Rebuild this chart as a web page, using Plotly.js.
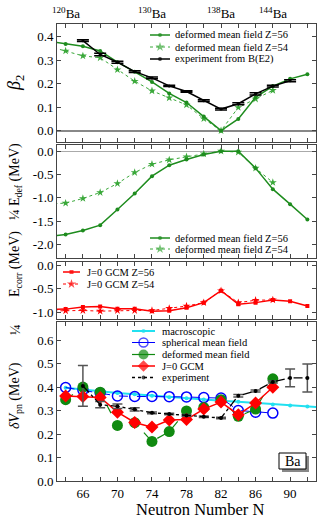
<!DOCTYPE html>
<html>
<head>
<meta charset="utf-8">
<script src="https://cdn.plot.ly/plotly-3.0.1.min.js"></script>
<style>body{margin:0;background:#fff}</style>
</head>
<body>
<div id="myDiv" style="width:321px;height:518px"></div>
<script>
// neutron numbers
var nAll = [62, 64, 66, 68, 70, 72, 74, 76, 78, 80, 82, 84, 86, 88, 90, 92];
var nZ54 = [62, 64, 66, 68, 70, 72, 74, 76, 78, 80, 82, 84, 86, 88];
var nExpB = [66, 68, 70, 72, 74, 76, 78, 80, 82, 84, 86, 88, 90];
var nCalc = [64, 66, 68, 70, 72, 74, 76, 78, 80, 82, 84, 86, 88];
var nMacro = [64, 66, 68, 70, 72, 74, 76, 78, 80, 82, 84, 86, 88, 90, 92, 94];
var nExpV = [66, 68, 70, 72, 74, 76, 78, 80, 82, 84, 86, 88, 90, 92];

// beta2
var betaZ56 = [0.382, 0.370, 0.360, 0.340, 0.292, 0.251, 0.208, 0.159, 0.120, 0.060, 0.0, 0.050, 0.142, 0.190, 0.221, 0.241];
var betaZ54 = [0.360, 0.340, 0.319, 0.311, 0.260, 0.211, 0.170, 0.140, 0.110, 0.051, 0.0, 0.099, 0.135, 0.172];
var betaExp = [0.384, 0.325, 0.292, 0.252, 0.225, 0.191, 0.167, 0.128, 0.092, 0.115, 0.157, 0.190, 0.213];
var betaErr = [0.004, 0.005, 0.004, 0.004, 0.004, 0.003, 0.003, 0.004, 0.004, 0.004, 0.005, 0.004, 0.004];

// 1/4 E_def
var edefZ56 = [-1.83, -1.786, -1.70, -1.586, -1.25, -0.907, -0.536, -0.30, -0.179, -0.071, 0.0, 0.0, -0.364, -0.814, -1.136, -1.464];
var edefZ54 = [-1.13, -1.114, -1.014, -0.886, -0.693, -0.457, -0.279, -0.186, -0.121, -0.057, 0.0, -0.02, -0.364, -0.671];

// 1/4 E_corr
var ecorrZ56 = [-0.945, -0.935, -0.89, -0.877, -0.928, -0.928, -0.978, -0.971, -0.906, -0.797, -0.543, -0.833, -0.797, -0.739, -0.768, -0.87];
var ecorrZ54 = [-0.975, -0.97, -0.964, -0.978, -0.964, -0.964, -0.964, -0.92, -0.87, -0.797, -0.543, -0.797, -0.746, -0.739];

// delta V_pn
var vMacro = [0.398, 0.390, 0.383, 0.376, 0.370, 0.364, 0.358, 0.353, 0.348, 0.343, 0.338, 0.333, 0.327, 0.322, 0.318, 0.314];
var vSpher = [0.399, 0.388, 0.376, 0.363, 0.361, 0.361, 0.360, 0.359, 0.356, 0.354, 0.301, 0.294, 0.290];
var vDef = [0.347, 0.401, 0.379, 0.237, 0.249, 0.169, 0.211, 0.299, 0.314, 0.347, 0.276, 0.307, 0.436];
var vGcm = [0.363, 0.361, 0.357, 0.294, 0.250, 0.230, 0.260, 0.263, 0.307, 0.337, 0.283, 0.333, 0.400];
var vExp = [0.406, 0.326, 0.319, 0.306, 0.291, 0.286, 0.280, 0.274, 0.269, 0.364, 0.384, 0.423, 0.440, 0.440];
var vErr = [0.087, 0.013, 0.010, 0.007, 0.004, 0.003, 0.004, 0.003, 0.003, 0.005, 0.004, 0.005, 0.038, 0.060];

// tick labels
var isoN = [64, 74, 82, 88];
var isoText = ['<sup>120</sup>Ba', '<sup>130</sup>Ba', '<sup>138</sup>Ba', '<sup>144</sup>Ba'];
var yTicks1 = [0, 0.1, 0.2, 0.3, 0.4];
var yTicks2 = [0, -0.5, -1, -1.5, -2];
var yTicks3 = [0, -0.5, -1];
var yTicks4 = [0, 0.1, 0.2, 0.3, 0.4, 0.5, 0.6];

var green = '#1e8c1e';
var green2 = '#3aa83a';
var red = '#ff0000';
var FAM = 'Liberation Serif';

function F(size) { return {family: FAM, size: size, color: '#000'}; }
function fmt(v) { return v.toFixed(1); }
// pixel -> paper (plot area is x 57..316, y 24..481)
function px(x) { return (x - 57) / 259; }
function py(y) { return (481 - y) / 457; }

function xAxis(anchor, labels) {
  return {
    range: [63, 93], anchor: anchor, tickmode: 'linear', tick0: 66, dtick: 4,
    showticklabels: labels,
    ticks: 'inside', ticklen: 4, tickcolor: '#444', mirror: 'allticks',
    minor: {tick0: 64, dtick: 2, ticks: 'inside', ticklen: 4, tickcolor: '#444'},
    showline: true, linecolor: '#444', linewidth: 1, showgrid: false, zeroline: false,
    tickfont: F(13)
  };
}

function yAxis(domain, range, ticks, anchor) {
  return {
    domain: domain, range: range, anchor: anchor, tickvals: ticks, ticktext: ticks.map(fmt),
    ticks: 'inside', ticklen: 4, tickcolor: '#444', mirror: 'allticks',
    showline: true, linecolor: '#444', linewidth: 1, showgrid: false, zeroline: false,
    tickfont: F(13)
  };
}

// legend keys, drawn in a pixel-coordinate overlay (x6/y6)
function key(x0, x1, y, color, dash, width, symbol, size, open) {
  return {
    x: [x0, (x0 + x1) / 2, x1], y: [y, y, y], xaxis: 'x6', yaxis: 'y6',
    mode: 'lines+markers', line: {color: color, dash: dash, width: width},
    marker: {symbol: symbol, size: [0, size, 0], color: color, line: {color: color, width: open ? 1.5 : 0}},
    showlegend: false, hoverinfo: 'skip'
  };
}

var data = [
  // panel 1
  {x: nZ54, y: betaZ54, xaxis: 'x', yaxis: 'y', mode: 'lines+markers',
   line: {color: green2, dash: 'dot', width: 1}, marker: {symbol: 'star', size: 6, color: green2}},
  {x: nAll, y: betaZ56, xaxis: 'x', yaxis: 'y', mode: 'lines+markers',
   line: {color: green, width: 1.5}, marker: {size: 4, color: green}},
  {x: nExpB, y: betaExp, xaxis: 'x', yaxis: 'y', mode: 'lines+markers',
   line: {color: '#000', width: 1.5}, marker: {size: 3, color: '#000'},
   error_y: {type: 'data', array: betaErr, width: 6, thickness: 1.5, color: '#000'}},
  // panel 2
  {x: nZ54, y: edefZ54, xaxis: 'x2', yaxis: 'y2', mode: 'lines+markers',
   line: {color: green2, dash: 'dot', width: 1}, marker: {symbol: 'star', size: 6, color: green2}},
  {x: nAll, y: edefZ56, xaxis: 'x2', yaxis: 'y2', mode: 'lines+markers',
   line: {color: green, width: 1.5}, marker: {size: 4, color: green}},
  // panel 3
  {x: nZ54, y: ecorrZ54, xaxis: 'x3', yaxis: 'y3', mode: 'lines+markers',
   line: {color: red, dash: 'dot', width: 1}, marker: {symbol: 'star', size: 6, color: red}},
  {x: nAll, y: ecorrZ56, xaxis: 'x3', yaxis: 'y3', mode: 'lines+markers',
   line: {color: red, width: 1.5}, marker: {symbol: 'square', size: 4, color: red}},
  // panel 4
  {x: nMacro, y: vMacro, xaxis: 'x4', yaxis: 'y4', mode: 'lines+markers',
   line: {color: '#22e0f0', width: 2}, marker: {size: 4, color: '#22e0f0'}},
  {x: nCalc, y: vSpher, xaxis: 'x4', yaxis: 'y4', mode: 'lines+markers',
   line: {color: '#0000ff', dash: 'dash', width: 1},
   marker: {symbol: 'circle-open', size: 10, color: '#0000ff', line: {width: 1.5}}},
  {x: nCalc, y: vDef, xaxis: 'x4', yaxis: 'y4', mode: 'lines+markers',
   line: {color: '#108a10', dash: 'dash', width: 1.2}, marker: {size: 11, color: '#108a10'}},
  {x: nCalc, y: vGcm, xaxis: 'x4', yaxis: 'y4', mode: 'lines+markers',
   line: {color: red, width: 1.5}, marker: {symbol: 'diamond', size: 10, color: red}},
  {x: nExpV, y: vExp, xaxis: 'x4', yaxis: 'y4', mode: 'lines+markers',
   line: {color: '#000', dash: 'dashdot', width: 1.3}, marker: {size: 4, color: '#000'},
   error_y: {type: 'data', array: vErr, width: 5, thickness: 1.5, color: '#555'}},
  // legend keys
  key(150, 170, 35, green, 'solid', 1.5, 'circle', 4),
  key(150, 170, 47, green2, 'dot', 1, 'star', 7),
  key(150, 170, 59, '#000', 'solid', 1.5, 'circle', 4),
  key(150, 170, 238, green, 'solid', 1.5, 'circle', 4),
  key(150, 170, 249, green2, 'dot', 1, 'star', 7),
  key(63, 80, 272, red, 'solid', 1.5, 'square', 4),
  key(63, 80, 284, red, 'dot', 1, 'star', 7),
  key(132, 155, 331, '#22e0f0', 'solid', 2, 'circle', 4),
  key(132, 155, 342.5, '#0000ff', 'solid', 1, 'circle-open', 9, true),
  key(132, 155, 354.5, '#108a10', 'solid', 1.2, 'circle', 10),
  key(132, 155, 366, red, 'solid', 1.5, 'diamond', 9),
  key(132, 155, 377.5, '#000', 'dot', 1.3, 'circle', 4)
];

var legendText = [
  [173, 35, 'deformed mean field Z=56'],
  [173, 47, 'deformed mean field Z=54'],
  [173, 59, 'experiment from B(E2)'],
  [173, 238, 'deformed mean field Z=56'],
  [173, 249, 'deformed mean field Z=54'],
  [85, 272, 'J=0 GCM Z=56'],
  [85, 284, 'J=0 GCM Z=54'],
  [160, 331, 'macroscopic'],
  [160, 342.5, 'spherical mean field'],
  [160, 354.5, 'deformed mean field'],
  [160, 366, 'J=0 GCM'],
  [160, 377.5, 'experiment']
];

var annotations = legendText.map(function (t) {
  return {xref: 'paper', yref: 'paper', x: px(t[0]), y: py(t[1]), text: t[2], showarrow: false,
          xanchor: 'left', yanchor: 'middle', font: F(10.5)};
});

isoN.forEach(function (n, i) {
  annotations.push({xref: 'x', yref: 'paper', x: n, y: py(13), text: isoText[i], showarrow: false,
                    xanchor: 'center', yanchor: 'middle', font: F(13)});
});

function ytitle(y, text, size) {
  annotations.push({xref: 'paper', yref: 'paper', x: px(15), y: py(y), text: text, showarrow: false,
                    textangle: -90, xanchor: 'center', yanchor: 'middle', font: F(size)});
}
ytitle(83, '<i>β</i><sub>2</sub>', 18);
ytitle(182, '¼ E<sub>def</sub> (MeV)', 14);
ytitle(264, 'E<sub>corr</sub> (MeV)', 14);
ytitle(330, '¼', 14);
ytitle(396, '<i>δV</i><sub>pn</sub> (MeV)', 14);

annotations.push({xref: 'paper', yref: 'paper', x: px(200), y: py(510), text: 'Neutron Number N',
                  showarrow: false, xanchor: 'center', yanchor: 'middle', font: F(16.5)});
annotations.push({xref: 'paper', yref: 'paper', x: px(292.5), y: py(461), text: 'Ba',
                  showarrow: false, xanchor: 'center', yanchor: 'middle', font: F(14)});

var layout = {
  width: 321, height: 518,
  margin: {l: 57, r: 5, t: 24, b: 37},
  paper_bgcolor: '#fff', plot_bgcolor: 'rgba(0,0,0,0)',
  font: F(12),
  showlegend: false,
  xaxis: xAxis('y', false),
  xaxis2: xAxis('y2', false),
  xaxis3: xAxis('y3', false),
  xaxis4: xAxis('y4', true),
  yaxis: Object.assign(yAxis([0.742, 1], [-0.048, 0.455], yTicks1, 'x'),
                       {zeroline: true, zerolinecolor: '#888', zerolinewidth: 2}),
  yaxis2: Object.assign(yAxis([0.489, 0.735], [-2.28, 0.13], yTicks2, 'x2'),
                        {zeroline: true, zerolinecolor: '#aaa', zerolinewidth: 1}),
  yaxis3: yAxis([0.354, 0.480], [-1.15, 0.075], yTicks3, 'x3'),
  yaxis4: yAxis([0, 0.347], [0, 0.677], yTicks4, 'x4'),
  xaxis6: {domain: [0, 1], range: [57, 316], visible: false, anchor: 'y6', fixedrange: true},
  yaxis6: {domain: [0, 1], range: [481, 24], visible: false, anchor: 'x6', fixedrange: true},
  shapes: [
    {type: 'rect', xref: 'paper', yref: 'paper', x0: px(282), x1: px(309), y0: py(472), y1: py(456),
     fillcolor: '#888', line: {width: 0}},
    {type: 'rect', xref: 'paper', yref: 'paper', x0: px(279), x1: px(306), y0: py(469), y1: py(453),
     fillcolor: '#fff', line: {color: '#000', width: 1}}
  ],
  annotations: annotations
};

Plotly.newPlot('myDiv', data, layout, {displayModeBar: false, staticPlot: true});
</script>
</body>
</html>
